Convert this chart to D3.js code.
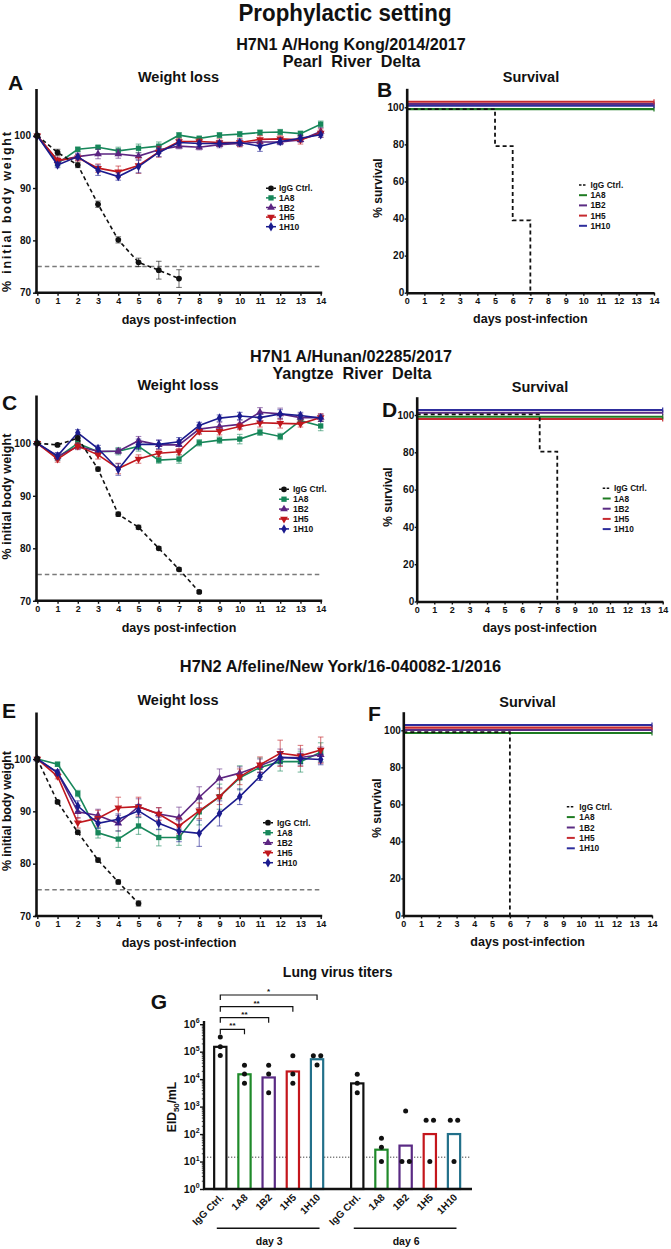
<!DOCTYPE html>
<html><head><meta charset="utf-8">
<script src="https://cdn.jsdelivr.net/npm/d3@7/dist/d3.min.js"></script>
<style>
body{margin:0;background:#fff}
svg{display:block;background:#fff}
</style></head><body>
<svg id="c" width="671" height="1249"></svg>
<script>
// ---------------- DATA ----------------
const DAYS = [0,1,2,3,4,5,6,7,8,9,10,11,12,13,14];
const GROUPS = ["IgG Ctrl.","1A8","1B2","1H5","1H10"];
const WEIGHT_TICKS = [70,80,90,100];
const SURV_TICKS = [0,20,40,60,80,100];
const THRESHOLD = 75;

// Panel A (H7N1 A/Hong Kong/2014/2017) weight, mean and SEM
const A_IgG      = [100,96.8,94.4,86.9,80.1,75.8,74.3,72.7];
const A_IgG_err  = [0.2,0.6,0.5,0.6,0.6,0.8,1.7,1.7];
const A_1A8      = [100,94.7,97.4,97.8,97.1,97.6,98.0,100.1,99.5,100.1,100.3,100.6,100.7,100.4,102.2];
const A_1A8_err  = [0.2,0.5,0.4,0.3,0.7,0.8,0.8,0.5,0.4,0.5,0.5,0.5,0.5,0.5,0.6];
const A_1B2      = [100,95.2,96.0,96.5,96.5,96.1,97.3,98.0,97.8,98.3,98.5,98.8,98.8,99.2,100.8];
const A_1B2_err  = [0.2,0.5,0.7,0.9,0.8,0.6,0.7,0.5,0.5,0.6,0.6,0.5,0.5,0.5,0.7];
const A_1H5      = [100,95.3,95.8,93.8,93.1,94.3,96.9,98.9,98.9,98.7,98.7,99.3,99.4,99.2,100.5];
const A_1H5_err  = [0.2,0.6,0.6,0.8,1.1,1.5,1.0,0.6,0.5,0.7,0.8,0.7,0.6,0.8,0.8];
const A_1H10     = [100,94.4,96.0,93.4,92.2,94.1,96.8,98.7,98.5,98.5,98.7,98.0,98.9,99.5,100.2];
const A_1H10_err = [0.2,0.5,0.5,1.0,0.7,1.2,0.8,0.5,0.5,0.5,0.6,1.0,0.6,0.6,0.5];

// Panel C (H7N1 A/Hunan/02285/2017) weight
const C_IgG      = [100,99.7,101.0,95.1,86.5,84.0,80.0,76.0,71.7];
const C_IgG_err  = [0.2,0.3,0.5,0.4,0.4,0.4,0.3,0.3,0.3];
const C_1A8      = [100,97.3,100.0,98.4,98.5,99.4,96.8,97.0,100.1,100.6,100.8,102.1,101.3,104.3,103.3];
const C_1A8_err  = [0.2,0.6,0.6,0.7,0.7,0.9,0.6,0.8,0.6,0.6,0.9,0.6,0.6,0.7,0.9];
const C_1B2      = [100,97.5,99.4,98.5,98.5,100.5,99.7,99.7,102.7,103.2,103.6,105.9,105.6,104.9,104.9];
const C_1B2_err  = [0.2,0.7,0.6,0.6,0.5,0.8,0.9,0.9,0.8,0.8,0.8,0.9,1.1,0.7,0.7];
const C_1H5      = [100,97.0,99.5,97.8,95.2,97.0,98.1,98.4,102.3,102.3,103.2,103.9,103.8,103.7,104.9];
const C_1H5_err  = [0.2,0.6,0.6,0.8,1.0,0.8,0.6,0.6,0.6,0.7,0.6,0.8,0.9,0.6,0.7];
const C_1H10     = [100,97.6,102.0,99.0,95.0,99.8,99.8,100.3,103.4,104.8,105.2,104.9,105.6,105.3,104.8];
const C_1H10_err = [0.2,0.6,0.6,0.6,1.1,1.0,0.8,0.8,0.6,0.6,0.7,0.6,0.8,0.6,0.6];

// Panel E (H7N2 A/feline/New York/16-040082-1/2016) weight
const E_IgG      = [100,91.8,86.0,80.7,76.5,72.4];
const E_IgG_err  = [0.2,0.3,0.4,0.4,0.4,0.5];
const E_1A8      = [100,99.0,93.4,85.9,84.7,87.2,85.0,85.0,89.9,92.8,96.4,98.4,99.5,99.5,101.3];
const E_1A8_err  = [0.2,0.4,0.6,1.0,1.6,1.6,1.6,1.5,2.5,2.4,2.3,1.8,1.8,2.0,1.8];
const E_1B2      = [100,97.4,89.9,89.2,87.7,90.9,89.5,88.8,92.7,96.3,97.3,98.7,100.3,100.3,100.8];
const E_1B2_err  = [0.2,0.5,1.2,1.2,1.5,1.5,1.2,2.0,2.0,1.8,1.2,1.3,1.6,1.6,1.5];
const E_1H5      = [100,96.7,87.8,88.7,90.7,90.9,89.5,87.2,90.1,92.8,96.6,98.9,101.1,100.6,101.7];
const E_1H5_err  = [0.2,0.5,1.0,1.5,2.0,1.8,1.2,1.5,1.5,1.5,1.5,1.5,2.5,2.0,2.5];
const E_1H10     = [100,97.4,91.0,87.7,88.5,90.1,87.7,86.2,85.8,89.6,92.8,96.7,100.3,100.1,99.9];
const E_1H10_err = [0.2,0.5,1.0,1.0,1.0,1.2,1.2,2.0,2.5,2.4,1.5,0.8,1.0,1.0,1.0];

// Survival (Kaplan-Meier steps)
const B_IgG_days = [0,5,6,7];   const B_IgG_pct = [100,80,40,0];
const D_IgG_days = [0,7,8];     const D_IgG_pct = [100,80,0];
const F_IgG_days = [0,6];       const F_IgG_pct = [100,0];
const MAB_days   = [0,14];      const MAB_pct   = [100,100];

// Panel G lung virus titers (EID50/mL)
const G_days = ["day 3","day 6"];
const G_day3_mean = [1.5e5,1.5e4,1.15e4,1.9e4,5.3e4];
const G_day6_mean = [7.0e3,27,38,100,100];
const G_day3_pts = [[3.4e5,1.5e5,7.2e4],[3.2e4,1.55e4,7.1e3],[3.2e4,1.55e4,3.2e3],[7.1e4,1.55e4,7.1e3],[7.1e4,7.1e4,3.3e4]];
const G_day6_pts = [[1.5e4,7.1e3,3.2e3],[71,33,10],[690,10,10],[320,320,10],[320,320,10]];
const G_LOD = 14.4;
const G_Y_TICKS = [1,10,100,1e3,1e4,1e5,1e6];
const G_SIG = [["1A8","**"],["1B2","**"],["1H5","**"],["1H10","*"]];

// ---------------- STYLE ----------------
const FONT = "'Liberation Sans', Arial, Helvetica, sans-serif";
const INK = "#111";
const WCOL = {"IgG Ctrl.":"#111","1A8":"#17875a","1B2":"#5c2581","1H5":"#c0171d","1H10":"#1b1b8e"};
const SCOL = {"IgG Ctrl.":"#111","1A8":"#1e7b22","1B2":"#5b2c83","1H5":"#c62a2f","1H10":"#2d2d9c"};
const GCOL = {"IgG Ctrl.":"#111","1A8":"#1f8a2a","1B2":"#5a2a84","1H5":"#c4161c","1H10":"#22708a"};
const SYM = {"IgG Ctrl.":[d3.symbolCircle,26,0],"1A8":[d3.symbolSquare,28,0],"1B2":[d3.symbolTriangle,26,0],"1H5":[d3.symbolTriangle,26,180],"1H10":[d3.symbolDiamond,26,0]};

const svg = d3.select("#c");

function txt(x,y,s,size,anchor,opts){
  opts = opts||{};
  const t = svg.append("text").attr("x",x).attr("y",y).attr("font-family",FONT)
    .attr("font-weight","bold").attr("font-size",size).attr("fill",INK)
    .attr("text-anchor",anchor||"middle").style("white-space","pre").text(s);
  if(opts.rotate) t.attr("transform",`rotate(${opts.rotate},${x},${y})`);
  if(opts.len) t.attr("textLength",opts.len).attr("lengthAdjust",opts.adj||"spacingAndGlyphs");
  return t;
}
function styleAxis(g,w){
  g.select(".domain").attr("stroke",INK).attr("stroke-width",w);
  g.selectAll(".tick line").attr("stroke",INK).attr("stroke-width",1.4);
  g.selectAll(".tick text").attr("font-family",FONT).attr("font-weight","bold").attr("fill",INK);
}

// ---------------- HEADINGS ----------------
txt(345,21,"Prophylactic setting",23,"middle",{len:213});
txt(351,50,"H7N1 A/Hong Kong/2014/2017",16.2);
txt(351.5,66.5,"Pearl  River  Delta",16.2);
txt(351,361.5,"H7N1 A/Hunan/02285/2017",16.2);
txt(352,378.5,"Yangtze  River  Delta",16.2);
txt(340.5,671.5,"H7N2 A/feline/New York/16-040082-1/2016",16.4);

// ---------------- WEIGHT PANELS ----------------
function weightPanel(p){
  const x = d3.scaleLinear().domain([0,14]).range([p.x0,p.x1]);
  const k = (p.y70-p.y100)/30;
  const top = 100 + (p.y100-p.yTop)/k;
  const y = d3.scaleLinear().domain([70,top]).range([p.y70,p.yTop]);
  const g = svg.append("g");
  g.append("line").attr("x1",x(0)).attr("x2",x(14)).attr("y1",y(THRESHOLD)).attr("y2",y(THRESHOLD))
    .attr("stroke","#7a7a7a").attr("stroke-width",1.5).attr("stroke-dasharray","4.5,3");
  const order = ["1A8","1B2","1H5","1H10","IgG Ctrl."];
  order.forEach(name=>{
    const s = p.series[name];
    const pts = s.v.map((v,i)=>({d:DAYS[i],v:v,e:s.e[i]}));
    const col = WCOL[name];
    const eb = g.append("g").attr("stroke",col).attr("stroke-opacity",0.55).attr("stroke-width",1.1);
    pts.forEach(q=>{
      const y1=y(q.v+q.e), y2=y(q.v-q.e), cx=x(q.d);
      eb.append("line").attr("x1",cx).attr("x2",cx).attr("y1",y1).attr("y2",y2);
      eb.append("line").attr("x1",cx-2.8).attr("x2",cx+2.8).attr("y1",y1).attr("y2",y1);
      eb.append("line").attr("x1",cx-2.8).attr("x2",cx+2.8).attr("y1",y2).attr("y2",y2);
    });
    g.append("path").datum(pts).attr("fill","none").attr("stroke",col).attr("stroke-width",1.6)
      .attr("stroke-dasharray",name==="IgG Ctrl."?"4,3":null)
      .attr("d",d3.line().x(q=>x(q.d)).y(q=>y(q.v)));
    const sy = SYM[name];
    g.selectAll(null).data(pts).join("path")
      .attr("transform",q=>`translate(${x(q.d)},${y(q.v)}) rotate(${sy[2]})`)
      .attr("d",d3.symbol(sy[0],sy[1])()).attr("fill",col);
  });
  const xa = g.append("g").attr("transform",`translate(0,${p.y70})`)
    .call(d3.axisBottom(x).tickValues(DAYS).tickSize(3).tickSizeOuter(0).tickPadding(2).tickFormat(d3.format("d")));
  styleAxis(xa,2.6);
  xa.select(".domain").attr("d",`M${p.axX-1.3},0H${p.x1+1.5}`);
  xa.selectAll(".tick text").attr("font-size",9);
  const ya = g.append("g").attr("transform",`translate(${p.axX},0)`)
    .call(d3.axisLeft(y).tickValues(WEIGHT_TICKS).tickSize(3).tickSizeOuter(0).tickPadding(2));
  styleAxis(ya,2.6);
  ya.selectAll(".tick text").attr("font-size",10);
  // legend
  GROUPS.forEach((name,i)=>{
    const ly = p.leg[1] + i*p.leg[3];
    const col = WCOL[name];
    g.append("line").attr("x1",p.leg[0]-5).attr("x2",p.leg[0]+5).attr("y1",ly).attr("y2",ly)
      .attr("stroke",col).attr("stroke-width",1.5).attr("stroke-dasharray",name==="IgG Ctrl."?"2.5,1.5":null);
    const sy = SYM[name];
    g.append("path").attr("transform",`translate(${p.leg[0]},${ly}) rotate(${sy[2]})`)
      .attr("d",d3.symbol(sy[0],sy[1])()).attr("fill",col);
    txt(p.leg[2],ly+3,name,8.5,"start");
  });
  txt((p.x0+p.x1)/2,p.y70+31,"days post-infection",12.5);
  txt(p.ylab[0],p.ylab[1],"% initial body weight",12.5,"middle",{rotate:-90,len:p.ylab[2],adj:"spacing"});
}

weightPanel({x0:37.3,x1:320.7,axX:36,y70:292.7,y100:135.7,yTop:88.5,
  series:{"IgG Ctrl.":{v:A_IgG,e:A_IgG_err},"1A8":{v:A_1A8,e:A_1A8_err},"1B2":{v:A_1B2,e:A_1B2_err},"1H5":{v:A_1H5,e:A_1H5_err},"1H10":{v:A_1H10,e:A_1H10_err}},
  leg:[271,188.3,279,9.6], ylab:[10.8,212,160]});
weightPanel({x0:37.3,x1:320.7,axX:36,y70:600.8,y100:443.3,yTop:395,
  series:{"IgG Ctrl.":{v:C_IgG,e:C_IgG_err},"1A8":{v:C_1A8,e:C_1A8_err},"1B2":{v:C_1B2,e:C_1B2_err},"1H5":{v:C_1H5,e:C_1H5_err},"1H10":{v:C_1H10,e:C_1H10_err}},
  leg:[284,489.3,293,9.9], ylab:[10.8,496.5,126]});
weightPanel({x0:37.3,x1:320.7,axX:36,y70:916,y100:759,yTop:712,
  series:{"IgG Ctrl.":{v:E_IgG,e:E_IgG_err},"1A8":{v:E_1A8,e:E_1A8_err},"1B2":{v:E_1B2,e:E_1B2_err},"1H5":{v:E_1H5,e:E_1H5_err},"1H10":{v:E_1H10,e:E_1H10_err}},
  leg:[268,822.7,277,10], ylab:[10.8,811,120]});

// ---------------- SURVIVAL PANELS ----------------
function survivalPanel(p){
  const x = d3.scaleLinear().domain([0,14]).range([p.x0,p.x1]);
  const k = (p.y0-p.y100)/100;
  const top = 100 + (p.y100-p.yTop)/k;
  const y = d3.scaleLinear().domain([0,top]).range([p.y0,p.yTop]);
  const g = svg.append("g");
  const line = d3.line().curve(d3.curveStepAfter).x(d=>x(d[0])).y(d=>y(d[1]));
  p.order.forEach(name=>{
    const isC = name==="IgG Ctrl.";
    const pts = isC ? d3.zip(p.ctrl[0],p.ctrl[1]) : d3.zip(MAB_days,MAB_pct);
    const gg = g.append("g").attr("transform",`translate(0,${p.off[name]})`);
    gg.append("path").datum(pts).attr("fill","none").attr("stroke",SCOL[name])
      .attr("stroke-width",isC?1.8:2.1).attr("stroke-dasharray",isC?"4,3":null).attr("d",line);
    if(!isC){
      const last = pts[pts.length-1];
      gg.append("line").attr("x1",x(last[0])).attr("x2",x(last[0])).attr("y1",y(last[1])-2.5).attr("y2",y(last[1])+2.5)
        .attr("stroke",SCOL[name]).attr("stroke-width",1.2);
    }
  });
  const xa = g.append("g").attr("transform",`translate(0,${p.y0})`)
    .call(d3.axisBottom(x).tickValues(DAYS).tickSize(3).tickSizeOuter(0).tickPadding(2).tickFormat(d3.format("d")));
  styleAxis(xa,2.6);
  xa.selectAll(".tick text").attr("font-size",9);
  const ya = g.append("g").attr("transform",`translate(${p.x0},0)`)
    .call(d3.axisLeft(y).tickValues(SURV_TICKS).tickSize(2).tickSizeOuter(0).tickPadding(0.5));
  styleAxis(ya,2.6);
  ya.selectAll(".tick text").attr("font-size",10);
  GROUPS.forEach((name,i)=>{
    const ly = p.leg[1]+i*p.leg[3];
    g.append("line").attr("x1",p.leg[0]-4).attr("x2",p.leg[0]+4).attr("y1",ly).attr("y2",ly)
      .attr("stroke",SCOL[name]).attr("stroke-width",name==="IgG Ctrl."?1.5:2)
      .attr("stroke-dasharray",name==="IgG Ctrl."?"2.5,1.5":null);
    txt(p.leg[2],ly+3,name,8.3,"start");
  });
  txt((p.x0+p.x1)/2,p.y0+30,"days post-infection",12.5);
  txt(p.ylab[0],p.ylab[1],"% survival",12,"middle",{rotate:-90});
}
survivalPanel({x0:406.7,x1:654,y0:292.7,y100:107.3,yTop:88.3,ctrl:[B_IgG_days,B_IgG_pct],
  order:["1A8","1H10","1B2","1H5","IgG Ctrl."],
  off:{"IgG Ctrl.":1.8,"1A8":1.8,"1B2":-3.3,"1H5":-5.6,"1H10":-1.6},
  leg:[583,185,590.5,10.2], ylab:[382,188]});
survivalPanel({x0:416.7,x1:662.7,y0:601.5,y100:415,yTop:396.7,ctrl:[D_IgG_days,D_IgG_pct],
  order:["1H5","1A8","1B2","1H10","IgG Ctrl."],
  off:{"IgG Ctrl.":-0.7,"1A8":1.7,"1B2":-2.3,"1H5":4,"1H10":-5},
  leg:[606.7,488.3,614,10.2], ylab:[392,497]});
survivalPanel({x0:403.3,x1:652,y0:915.5,y100:730.3,yTop:711.7,ctrl:[F_IgG_days,F_IgG_pct],
  order:["1A8","1B2","1H5","1H10","IgG Ctrl."],
  off:{"IgG Ctrl.":1.8,"1A8":2.7,"1B2":-0.3,"1H5":-2.7,"1H10":-5.3},
  leg:[570.8,806.7,579.3,10.4], ylab:[381,808]});

// panel titles & letters
txt(178.5,82,"Weight loss",14.5); txt(531,82,"Survival",14.5);
txt(178,389.5,"Weight loss",14.5); txt(540,391.5,"Survival",14.5);
txt(178,705,"Weight loss",14.5); txt(527.5,706.5,"Survival",14.5);
txt(8,90,"A",21,"start"); txt(377,97,"B",21,"start");
txt(2,410,"C",21,"start"); txt(382,417,"D",21,"start");
txt(2,718,"E",21,"start"); txt(368,720.5,"F",21,"start");
txt(337.7,977,"Lung virus titers",14);
txt(150.7,1009,"G",21,"start");

// ---------------- PANEL G ----------------
(function(){
  const base = 1189, axX = 204;
  const y = d3.scaleLog().domain([1,1e6]).range([base,1024.2]);
  const x0 = d3.scaleBand().domain(G_days).range([208.2,466.1]).paddingInner(0.117);
  const x1 = d3.scaleBand().domain(GROUPS).range([0,x0.bandwidth()]).paddingInner(0.41).paddingOuter(0.205);
  const g = svg.append("g");
  const cx = (day,ab)=>x0(day)+x1(ab)+x1.bandwidth()/2;
  const means = {"day 3":G_day3_mean,"day 6":G_day6_mean};
  const pts = {"day 3":G_day3_pts,"day 6":G_day6_pts};
  // LOD
  g.append("line").attr("x1",axX).attr("x2",471).attr("y1",y(G_LOD)).attr("y2",y(G_LOD))
    .attr("stroke","#444").attr("stroke-width",1).attr("stroke-dasharray","1.3,1.7");
  G_days.forEach(day=>{
    GROUPS.forEach((ab,i)=>{
      const m = means[day][i];
      g.append("rect").attr("x",x0(day)+x1(ab)+1).attr("width",x1.bandwidth()-2)
        .attr("y",y(m)).attr("height",base-y(m)).attr("fill","#fff")
        .attr("stroke",GCOL[ab]).attr("stroke-width",2.2);
      const vals = pts[day][i];
      const groups = d3.group(vals.map((v,j)=>({v,j})), d=>Math.round(Math.log10(d.v)*20));
      groups.forEach(arr=>{
        arr.forEach((d,k)=>{
          const off = (k-(arr.length-1)/2)*7.4;
          g.append("circle").attr("cx",cx(day,ab)+off).attr("cy",y(d.v)).attr("r",2.5).attr("fill",INK);
        });
      });
      txt(cx(day,ab)+4,1198,ab,10,"end",{rotate:-45});
    });
  });
  // axes
  const xa = g.append("g").attr("transform",`translate(0,${base})`);
  xa.append("line").attr("x1",axX-1).attr("x2",472).attr("stroke",INK).attr("stroke-width",2.4);
  const minors = [];
  for(let e=0;e<6;e++) for(let m=2;m<=9;m++) minors.push(m*Math.pow(10,e));
  const ya = g.append("g").attr("transform",`translate(${axX},0)`)
    .call(d3.axisLeft(y).tickValues(G_Y_TICKS).tickSize(4).tickSizeOuter(0).tickFormat(""));
  styleAxis(ya,2.4);
  ya.select(".domain").attr("d",`M0,${base+1}V1021`);
  const ym = g.append("g").attr("transform",`translate(${axX},0)`)
    .call(d3.axisLeft(y).tickValues(minors).tickSize(2.2).tickSizeOuter(0).tickFormat(""));
  ym.select(".domain").remove();
  ym.selectAll(".tick line").attr("stroke",INK).attr("stroke-width",0.8);
  G_Y_TICKS.forEach(v=>{
    txt(axX-8.5,y(v)+3.6,"10",10.5,"end");
    svg.append("text").attr("x",axX-8.3).attr("y",y(v)-0.8).attr("font-family",FONT).attr("font-weight","bold")
      .attr("font-size",7).attr("fill",INK).text(d3.format("d")(Math.round(Math.log10(v))));
  });
  // y label
  const yl = svg.append("text").attr("transform","translate(176,1107) rotate(-90)").attr("text-anchor","middle")
    .attr("font-family",FONT).attr("font-weight","bold").attr("font-size",12).attr("fill",INK);
  yl.append("tspan").text("EID");
  yl.append("tspan").attr("font-size",8).attr("dy",3).text("50");
  yl.append("tspan").attr("dy",-3).text("/mL");
  // day lines
  G_days.forEach(day=>{
    const a = cx(day,GROUPS[0])-3.5, b = cx(day,GROUPS[4])+2.5;
    g.append("line").attr("x1",a).attr("x2",b).attr("y1",1228.3).attr("y2",1228.3).attr("stroke",INK).attr("stroke-width",1.4);
    txt((a+b)/2+1,1245,day,10.5);
  });
  // significance brackets
  const lv = [1029.3,1017.7,1006.7,995];
  G_SIG.forEach((s,i)=>{
    const xa1 = cx("day 3",GROUPS[0]), xa2 = cx("day 3",s[0]), yy = lv[i];
    g.append("path").attr("d",`M${xa1},${yy+5}V${yy}H${xa2}V${yy+5}`).attr("fill","none").attr("stroke",INK).attr("stroke-width",1.2);
    txt((xa1+xa2)/2,yy-1.2,s[1],8);
  });
})();
</script>
</body></html>
